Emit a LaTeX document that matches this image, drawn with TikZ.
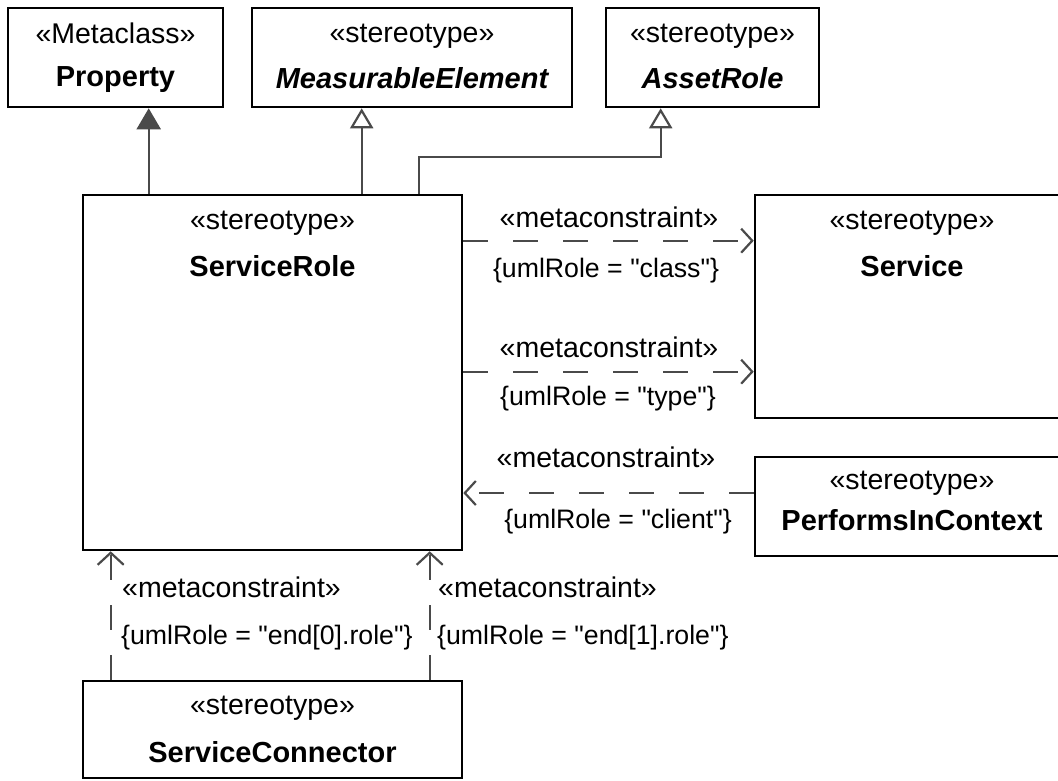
\documentclass[tikz,border=0pt]{standalone}
\usepackage{fontspec}
\setmainfont{Liberation Sans}[Ligatures=TeXOff]
\usetikzlibrary{arrows.meta}
\definecolor{conn}{HTML}{4A4A4A}
\begin{document}
\begin{tikzpicture}[x=1pt,y=-1pt,
  every node/.style={font=\fontsize{26.7}{32}\selectfont},
  umlbox/.style={draw=black,line width=2.6pt,fill=white,rectangle,inner sep=0pt},
  lbl/.style={inner sep=0pt,anchor=base},
  lblw/.style={inner sep=0pt,anchor=base west},
  gl/.style={font=\fontsize{28.5}{34}\selectfont},
  nm/.style={lbl,font=\fontsize{29}{34}\selectfont\bfseries},
  nmi/.style={lbl,font=\fontsize{29}{34}\selectfont\bfseries\itshape},
  genline/.style={draw=conn,line width=2.2pt},
  genopen/.style={genline,-{Triangle[length=20pt,width=23pt,fill=white,line width=2.2pt]}},
  genfill/.style={genline,-{Triangle[length=21pt,width=24pt,fill=conn]}},
  depline/.style={draw=conn,line width=2.2pt,dash pattern=on 25pt off 25pt},
  deph/.style={depline,-{Straight Barb[length=11pt,width=24pt,line width=2.2pt]}},
  depv/.style={depline,-{Straight Barb[length=12pt,width=26pt,line width=2.2pt]}}]
\useasboundingbox (0,0) rectangle (1058,780);
\fill[white] (0,0) rectangle (1058,780);
% boxes
\node[umlbox,minimum width=215pt,minimum height=99pt] (prop) at (115.5,57.5) {};
\node[umlbox,minimum width=320pt,minimum height=99pt] (meas) at (412,57.5) {};
\node[umlbox,minimum width=213pt,minimum height=99pt] (asset) at (712.5,57.5) {};
\node[umlbox,minimum width=379pt,minimum height=355pt] (srole) at (272.5,372.5) {};
\node[umlbox,minimum width=314pt,minimum height=223pt] (serv) at (912,306.5) {};
\node[umlbox,minimum width=314pt,minimum height=99pt] (pic) at (912,506.5) {};
\node[umlbox,minimum width=379pt,minimum height=97pt] (sconn) at (272.5,729.5) {};
% box texts
\node[lbl,gl] (propst) at (115.5,43) {«Metaclass»};
\node[nm] (propnm) at (115.5,86) {Property};
\node[lbl,gl] (measst) at (412,42) {«stereotype»};
\node[nmi] (measnm) at (412,88) {MeasurableElement};
\node[lbl,gl] (assetst) at (712.5,42) {«stereotype»};
\node[nmi] (assetnm) at (712.5,88) {AssetRole};
\node[lbl,gl] (srolest) at (272.5,229) {«stereotype»};
\node[nm] (srolenm) at (272.5,276) {ServiceRole};
\node[lbl,gl] (servst) at (912,229) {«stereotype»};
\node[nm] (servnm) at (912,276) {Service};
\node[lbl,gl] (picst) at (912,489) {«stereotype»};
\node[nm] (picnm) at (912,530) {PerformsInContext};
\node[lbl,gl] (sconnst) at (272.5,714) {«stereotype»};
\node[nm] (sconnnm) at (272.5,762) {ServiceConnector};
% generalizations
\draw[genfill] ([xshift=67pt]srole.north west) -- ([xshift=67pt]srole.north west |- prop.south);
\draw[genopen] ([xshift=280pt]srole.north west) -- ([xshift=280pt]srole.north west |- meas.south);
\draw[genopen] ([xshift=337pt]srole.north west) -- ++(0,-37) -| ([xshift=56pt]asset.south west);
% dependencies
\draw[deph] ([yshift=-47pt]srole.north east) -- ([yshift=-47pt]srole.north east -| serv.west);
\draw[deph] ([yshift=-178pt]srole.north east) -- ([yshift=-178pt]srole.north east -| serv.west);
\draw[deph] ([yshift=13.5pt]pic.west) -- ([yshift=13.5pt]pic.west -| srole.east);
\draw[depv] ([xshift=29pt]sconn.north west) -- ([xshift=29pt]sconn.north west |- srole.south);
\draw[depv] ([xshift=348pt]sconn.north west) -- ([xshift=348pt]sconn.north west |- srole.south);
% labels
\node[lbl,gl] (mc1) at (609,227) {«metaconstraint»};
\node[lbl] (ur1) at (606,277) {\{umlRole = "class"\}};
\node[lbl,gl] (mc2) at (609,357) {«metaconstraint»};
\node[lbl] (ur2) at (608,405) {\{umlRole = "type"\}};
\node[lbl,gl] (mc3) at (606,467) {«metaconstraint»};
\node[lbl] (ur3) at (618,528) {\{umlRole = "client"\}};
\node[lblw,gl] (mc4) at (122,597) {«metaconstraint»};
\node[lblw] (ur4) at (121,644) {\{umlRole = "end[0].role"\}};
\node[lblw,gl] (mc5) at (438,597) {«metaconstraint»};
\node[lblw] (ur5) at (437,644) {\{umlRole = "end[1].role"\}};
\end{tikzpicture}
\end{document}
